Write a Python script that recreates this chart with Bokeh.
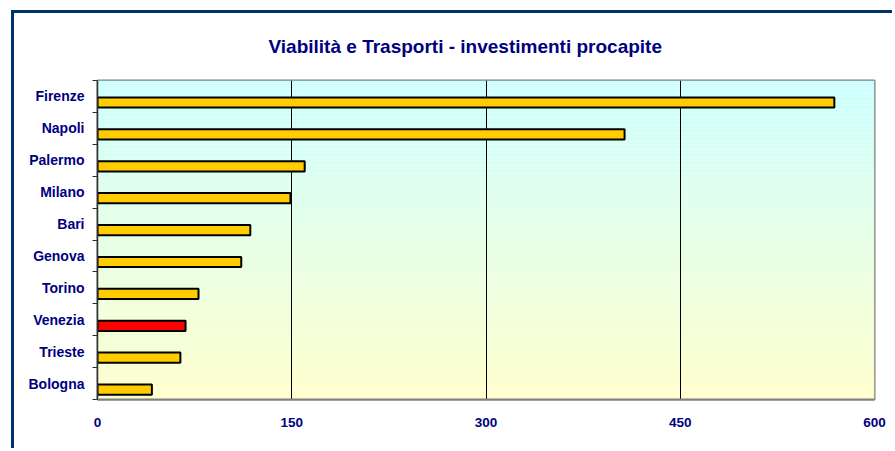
from bokeh.plotting import figure
from bokeh.models import ColumnDataSource, FixedTicker, Range1d
from bokeh.embed import file_html
from bokeh.resources import INLINE

# ---- data ----
cities = ["Firenze", "Napoli", "Palermo", "Milano", "Bari",
          "Genova", "Torino", "Venezia", "Trieste", "Bologna"]
values = [569, 407, 160, 149, 118, 111, 78, 68, 64, 42]
highlight = "Venezia"
x_ticks = [0, 150, 300, 450, 600]
title_text = "Viabilità e Trasporti - investimenti procapite"

NAVY = "#000080"
FONT = "Liberation Sans"

n = len(cities)
centers = [n - 0.5 - i for i in range(n)]
bar_y = [c - 0.19 for c in centers]
colors = ["#FF0000" if c == highlight else "#FFCC00" for c in cities]

p = figure(width=881, height=438, output_backend="svg", toolbar_location=None,
           x_range=Range1d(0, x_ticks[-1]), y_range=Range1d(0, n),
           min_border_left=83, min_border_right=21, min_border_top=67,
           min_border_bottom=52)
p.background_fill_color = "white"
p.border_fill_color = "white"
# outer chart border (left + top) drawn as a shadow, not affecting layout
p.styles = {"position": "relative", "left": "14px", "top": "13px",
            "box-shadow": "-3px -3px 0 0 #003366"}

# background gradient (cyan top -> light yellow bottom)
NS = 120
bots, tops, cols = [], [], []
top_rgb = (204, 255, 255)
bot_rgb = (255, 255, 204)
for k in range(NS):
    f = (k + 0.5) / NS
    r = [round(bot_rgb[j] + (top_rgb[j] - bot_rgb[j]) * f) for j in range(3)]
    bots.append(n * k / NS)
    tops.append(n * (k + 1) / NS)
    cols.append("#%02x%02x%02x" % tuple(r))
p.quad(left=0, right=x_ticks[-1], bottom=bots, top=tops, fill_color=cols,
       line_color=None, level="image")

# bars
src = ColumnDataSource(dict(y=bar_y, v=values, color=colors, city=cities))
p.hbar(y="y", left=0, right="v", height=0.32, fill_color="color",
       line_color="black", line_width=2, source=src)

# grid
p.ygrid.visible = False
p.xgrid.ticker = FixedTicker(ticks=x_ticks[1:-1])
p.xgrid.grid_line_color = "black"
p.xgrid.grid_line_width = 1

p.outline_line_color = "#808080"
p.outline_line_width = 2

# x axis
p.xaxis.ticker = FixedTicker(ticks=x_ticks)
p.xaxis.major_tick_out = 0
p.xaxis.major_tick_in = 0
p.xaxis.minor_tick_line_color = None
p.xaxis.axis_line_color = "#808080"
p.xaxis.axis_line_width = 2
p.xaxis.major_label_standoff = 18
p.xaxis.major_label_text_font = FONT
p.xaxis.major_label_text_font_style = "bold"
p.xaxis.major_label_text_font_size = "13.5px"
p.xaxis.major_label_text_color = NAVY

# y axis
p.yaxis.ticker = FixedTicker(ticks=centers, minor_ticks=list(range(n + 1)))
p.yaxis.major_label_overrides = {centers[i]: cities[i] for i in range(n)}
p.yaxis.major_tick_line_color = None
p.yaxis.major_tick_out = 0
p.yaxis.major_tick_in = 0
p.yaxis.minor_tick_line_color = "#303030"
p.yaxis.minor_tick_out = 5
p.yaxis.minor_tick_in = 0
p.yaxis.axis_line_color = "#303030"
p.yaxis.axis_line_width = 1.5
p.yaxis.major_label_standoff = 8
p.yaxis.major_label_text_font = FONT
p.yaxis.major_label_text_font_style = "bold"
p.yaxis.major_label_text_font_size = "14px"
p.yaxis.major_label_text_color = NAVY

# title
p.title.text = title_text
p.title.align = "left"
p.title.offset = 171
p.title.vertical_align = "top"
p.title.text_font = FONT
p.title.text_font_style = "bold"
p.title.text_font_size = "19px"
p.title.text_color = NAVY
p.title.standoff = 44

open("out.html", "w").write(file_html(p, INLINE))
